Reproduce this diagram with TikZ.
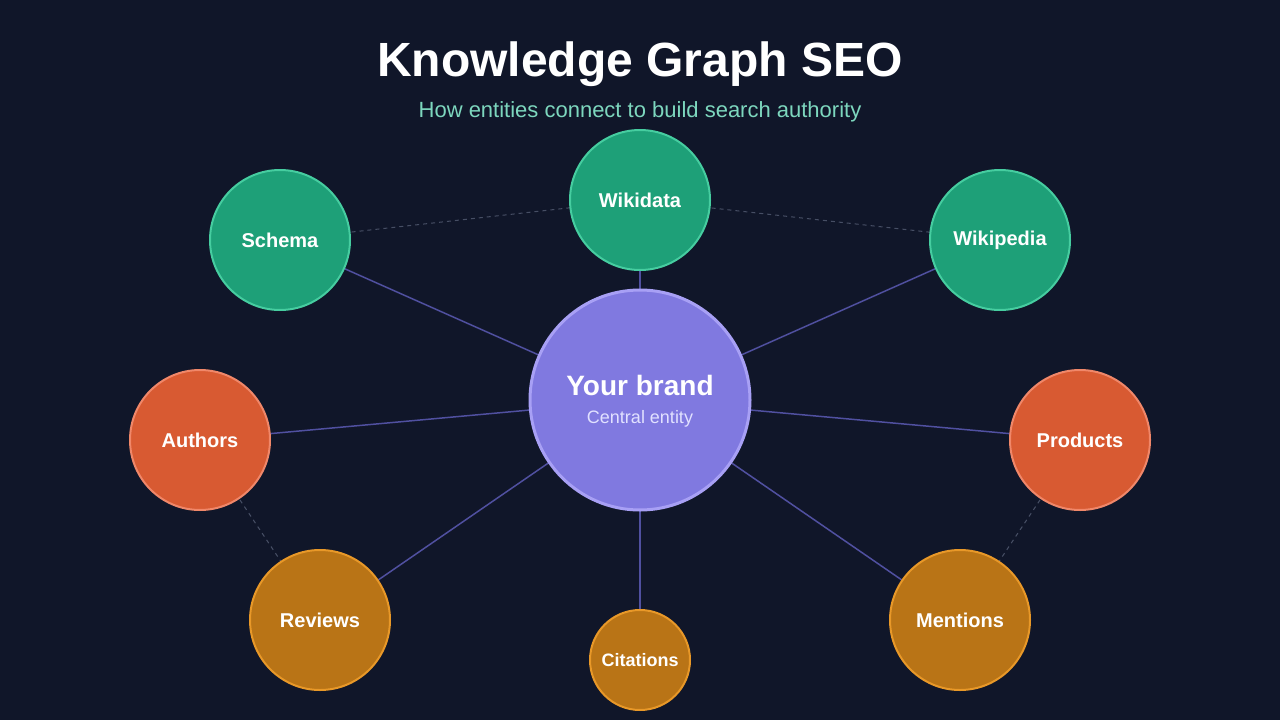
\documentclass[tikz,border=0pt]{standalone}
\usepackage{fontspec}
\setmainfont{Liberation Sans}
\usetikzlibrary{backgrounds}
\definecolor{bgc}{RGB}{16,22,41}
\definecolor{gf}{RGB}{30,160,120}\definecolor{gd}{RGB}{70,205,160}
\definecolor{rf}{RGB}{216,90,50}\definecolor{rd}{RGB}{240,135,105}
\definecolor{af}{RGB}{185,116,22}\definecolor{ad}{RGB}{232,152,40}
\definecolor{pf}{RGB}{128,121,224}\definecolor{pd}{RGB}{168,160,245}
\definecolor{lc}{RGB}{80,80,160}\definecolor{wc}{RGB}{70,78,100}
\definecolor{subc}{RGB}{125,215,190}\definecolor{bsc}{RGB}{225,225,255}
\pgfdeclarelayer{bottom}
\pgfsetlayers{bottom,background,main}
\begin{document}
\begin{tikzpicture}[x=1pt,y=-1pt,
  ent/.style={circle,line width=2pt,minimum size=140pt,inner sep=0pt,text=white,font=\fontsize{20}{24}\selectfont\bfseries},
  grn/.style={ent,fill=gf,draw=gd},
  red/.style={ent,fill=rf,draw=rd},
  amb/.style={ent,fill=af,draw=ad},
  link/.style={draw=lc,line width=1.5pt},
  weak/.style={draw=wc,line width=1pt,dash pattern=on 4pt off 4pt}]
\begin{pgfonlayer}{bottom}
\fill[bgc] (0,0) rectangle (1280,720);
\end{pgfonlayer}
\useasboundingbox (0,0) rectangle (1280,720);
\node[text=white,font=\fontsize{48}{56}\selectfont\bfseries] (title) at (640,64) {Knowledge Graph SEO};
\node[text=subc,font=\fontsize{22}{26}\selectfont] (sub) at (640,112) {How entities connect to build search authority};
\node[grn] (schema) at (280,240) {Schema};
\node[grn] (wikidata) at (640,200) {Wikidata};
\node[grn] (wikipedia) at (1000,240) {Wikipedia};
\node[red] (authors) at (200,440) {Authors};
\node[red] (products) at (1080,440) {Products};
\node[amb] (reviews) at (320,620) {Reviews};
\node[amb] (mentions) at (960,620) {Mentions};
\node[amb,minimum size=100pt,font=\fontsize{18}{22}\selectfont\bfseries] (citations) at (640,660) {Citations};
\node[circle,minimum size=220pt,line width=3pt,fill=pf,draw=pd] (brand) at (640,400) {};
\node[text=white,font=\fontsize{28}{32}\selectfont\bfseries] (bt) at (640,385) {Your brand};
\node[text=bsc,font=\fontsize{18}{22}\selectfont] (bs) at (640,419) {Central entity};
\begin{pgfonlayer}{background}
\foreach \n in {schema,wikidata,wikipedia,authors,products,reviews,mentions,citations}
  {\path[link] (brand.center) -- (\n.center);}
\path[weak] (schema.center) -- (wikidata.center);
\path[weak] (wikidata.center) -- (wikipedia.center);
\path[weak] (authors.center) -- (reviews.center);
\path[weak] (products.center) -- (mentions.center);
\end{pgfonlayer}
\end{tikzpicture}
\end{document}
